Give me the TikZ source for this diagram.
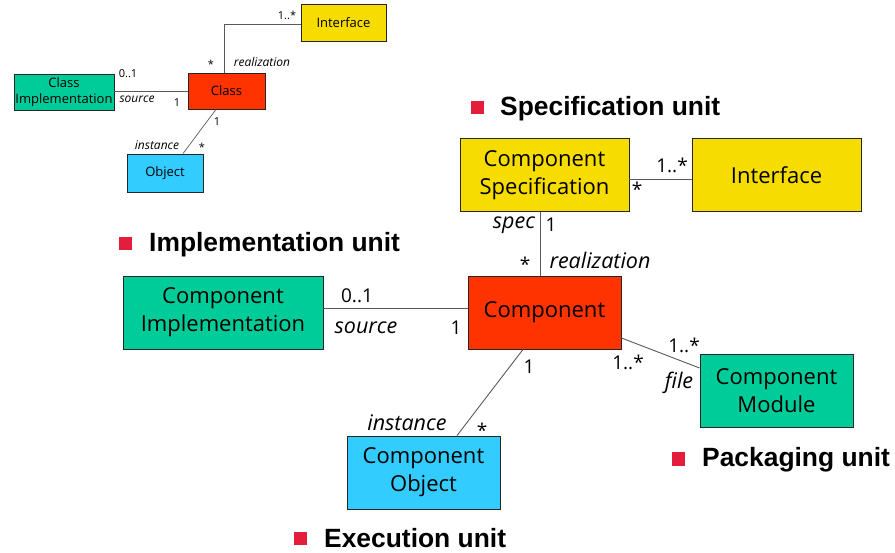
\documentclass[tikz,border=0pt]{standalone}
\usepackage{fontspec}
\setmainfont{Open Sans}
\newfontfamily\headfont{Liberation Sans}
\definecolor{cyellow}{RGB}{247,220,0}
\definecolor{cred}{RGB}{255,51,0}
\definecolor{cgreen}{RGB}{0,204,153}
\definecolor{ccyan}{RGB}{51,204,255}
\definecolor{bullet}{RGB}{226,30,60}
\begin{document}
\begin{tikzpicture}[x=1pt,y=-1pt,
  box/.style={draw=black!85, line width=0.9pt, inner sep=0pt, align=center},
  sbox/.style={box, font=\fontsize{13}{16}\selectfont},
  mbox/.style={box, font=\fontsize{22}{28}\selectfont},
  conn/.style={draw=black!65, line width=0.9pt},
  sl/.style={inner sep=0pt, font=\fontsize{11}{13}\selectfont},
  sli/.style={sl, font=\fontsize{12}{14}\selectfont\itshape},
  ml/.style={inner sep=0pt, font=\fontsize{19}{22}\selectfont},
  mli/.style={ml, font=\fontsize{21.5}{24}\selectfont\itshape},
  head/.style={inner sep=0pt, anchor=base west, font=\headfont\bfseries\fontsize{26.4}{30}\selectfont},
  bsq/.style={fill=bullet, minimum size=13pt, inner sep=0pt}]
\useasboundingbox (0,0) rectangle (895,553);
% small diagram
\node[sbox, fill=cyellow, minimum width=85pt, minimum height=37pt] (sif) at (343.5,22.5) {Interface};
\node[sbox, fill=cred, minimum width=77pt, minimum height=36pt] (scl) at (226.5,91) {Class};
\node[sbox, fill=cgreen, minimum width=100pt, minimum height=36pt] (sci) at (64,92) {Class\\Implementation};
\node[sbox, fill=ccyan, minimum width=76pt, minimum height=38pt] (sob) at (165,173) {Object};
\draw[conn, line width=0.7pt] ([xshift=-2.5pt]scl.north) |- ([yshift=-1.5pt]sif.west);
\draw[conn, line width=0.7pt] ([yshift=1pt]sci.east) -- ([yshift=1pt]sci.east -| scl.west);
\draw[conn, line width=0.7pt] ([xshift=-10.5pt]scl.south) -- ([xshift=18pt]sob.north);
\node[sl] (s1) at (287,15) {1..*};
\node[sl] (s2) at (211,64) {*};
\node[sli] (s3) at (262,62) {realization};
\node[sl] (s4) at (128,74) {0..1};
\node[sli] (s5) at (137,99) {source};
\node[sl] (s6) at (177,103) {1};
\node[sl] (s7) at (217,122) {1};
\node[sli] (s8) at (157,145) {instance};
\node[sl] (s9) at (202,147) {*};
% main diagram
\node[mbox, fill=cyellow, minimum width=169pt, minimum height=73pt] (cs) at (544.5,175) {Component\\Specification};
\node[mbox, fill=cyellow, minimum width=169pt, minimum height=73pt] (mif) at (776.5,175) {Interface};
\node[mbox, fill=cgreen, minimum width=200pt, minimum height=73pt] (ci) at (223,312.5) {Component\\Implementation};
\node[mbox, fill=cred, minimum width=153pt, minimum height=73pt] (comp) at (544.5,312.5) {Component};
\node[mbox, fill=ccyan, minimum width=153pt, minimum height=73pt] (co) at (423.5,472.5) {Component\\Object};
\node[mbox, fill=cgreen, minimum width=153pt, minimum height=73pt] (cm) at (776.5,390.5) {Component\\Module};
\draw[conn] ([yshift=-4pt]cs.east) -- ([yshift=-4pt]mif.west);
\draw[conn] ([xshift=-4.5pt]cs.south) -- ([xshift=-4.5pt]comp.north);
\draw[conn] ([yshift=4.5pt]ci.east) -- ([yshift=4.5pt]comp.west);
\draw[conn] ([xshift=-21.5pt]comp.south) -- ([xshift=33.5pt]co.north);
\draw[conn] ([yshift=-25.5pt]comp.east) -- ([yshift=22.5pt]cm.west);
\node[ml] (m1) at (672,165) {1..*};
\node[ml] (m2) at (637,189) {*};
\node[mli] (m3) at (514,225) {spec};
\node[ml] (m4) at (551,225) {1};
\node[ml] (m5) at (525,264) {*};
\node[mli] (m6) at (600,260) {realization};
\node[ml] (m7) at (357,296) {0..1};
\node[mli] (m8) at (366,328) {source};
\node[ml] (m9) at (456,328) {1};
\node[mli] (m10) at (407,423) {instance};
\node[ml] (m11) at (482,430) {*};
\node[ml] (m12) at (529,367) {1};
\node[ml] (m13) at (684,345) {1..*};
\node[ml] (m14) at (628,362) {1..*};
\node[mli] (m15) at (679,383) {file};
% headings
\node[bsq] (b1) at (477,108) {};
\node[head] (h1) at (500,116) {Specification unit};
\node[bsq] (b2) at (125,243.5) {};
\node[head] (h2) at (149,252) {Implementation unit};
\node[bsq] (b3) at (678,459) {};
\node[head] (h3) at (702,467) {Packaging unit};
\node[bsq] (b4) at (300,538.5) {};
\node[head] (h4) at (324,547) {Execution unit};
\end{tikzpicture}
\end{document}
